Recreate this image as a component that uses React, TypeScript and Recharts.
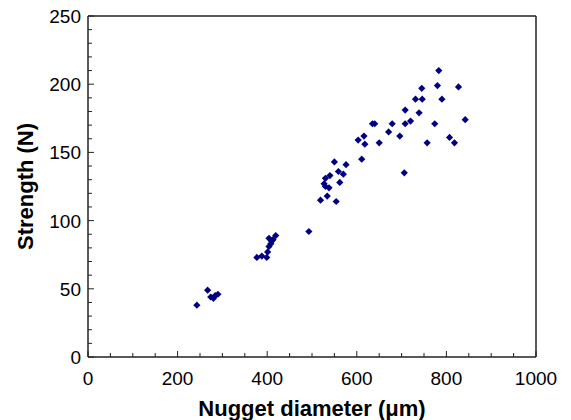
import { ScatterChart, Scatter, XAxis, YAxis, ReferenceLine } from "recharts"

// nugget diameter (um) and joint strength (N)
const diameters = [
  243, 267, 274, 280, 284, 290,
  377, 388, 399, 401, 404, 408, 410, 404, 413, 419,
  493,
  519, 534, 554, 530, 538, 527, 530, 540, 562, 559, 570, 576, 550,
  611, 603, 616, 618, 650, 635, 640, 671, 679, 696, 706, 708, 720, 708,
  739, 757, 783, 780, 827, 745, 731, 746, 790, 842, 774, 807, 818,
]
const strengths = [
  38, 49, 44, 43, 45, 46,
  73, 74, 73, 77, 81, 83, 85, 87, 86, 89,
  92,
  115, 118, 114, 125, 124, 127, 131, 133, 128, 136, 134, 141, 143,
  145, 159, 162, 156, 157, 171, 171, 165, 171, 162, 135, 171, 173, 181,
  179, 157, 210, 199, 198, 197, 189, 189, 189, 174, 171, 161, 157,
]

const xTicks = [0, 50, 100, 150, 200, 250, 300, 350, 400, 450, 500, 550, 600, 650, 700, 750, 800, 850, 900, 950, 1000]
const yTicks = [0, 10, 20, 30, 40, 50, 60, 70, 80, 90, 100, 110, 120, 130, 140, 150, 160, 170, 180, 190, 200, 210, 220, 230, 240, 250]

const data = diameters.map((d, i) => ({ d, s: strengths[i] }))

const FONT = "'Liberation Sans', Arial, sans-serif"
const AXIS = "#222"

const XTick = (props: any) => {
  const { x, y, payload } = props
  const major = payload.value % 200 === 0
  return (
    <g>
      <line x1={x} y1={y} x2={x} y2={y - (major ? 6 : 4)} stroke={AXIS} strokeWidth={1} />
      {major && (
        <text x={x} y={y + 28} textAnchor="middle" fontSize={19} fontFamily={FONT} fill="#000">
          {payload.value}
        </text>
      )}
    </g>
  )
}

const YTick = (props: any) => {
  const { x, y, payload } = props
  const major = payload.value % 50 === 0
  return (
    <g>
      <line x1={x} y1={y} x2={x + (major ? 6 : 4)} y2={y} stroke={AXIS} strokeWidth={1} />
      {major && (
        <text x={x - 7} y={y + 7} textAnchor="end" fontSize={19} fontFamily={FONT} fill="#000">
          {payload.value}
        </text>
      )}
    </g>
  )
}

const Diamond = (props: any) => {
  const { cx, cy } = props
  const r = 3.6
  return <polygon points={`${cx},${cy - r} ${cx + r},${cy} ${cx},${cy + r} ${cx - r},${cy}`} fill="#000080" />
}

export default function App() {
  return (
    <div style={{ position: "absolute", left: 0, top: 0, width: 571, height: 420, background: "#fff" }}>
      <ScatterChart width={571} height={420} margin={{ top: 16, right: 35, bottom: 23, left: 28 }}>
        <XAxis
          type="number"
          dataKey="d"
          domain={[0, 1000]}
          ticks={xTicks}
          interval={0}
          height={40}
          tickSize={0}
          tickMargin={0}
          tick={XTick}
          axisLine={{ stroke: AXIS, strokeWidth: 1.5 }}
          label={{
            content: () => (
              <text x={312} y={416} textAnchor="middle" fontSize={22} fontWeight="bold" fontFamily={FONT} fill="#000">
                Nugget diameter (μm)
              </text>
            ),
          }}
        />
        <YAxis
          type="number"
          dataKey="s"
          domain={[0, 250]}
          ticks={yTicks}
          interval={0}
          width={60}
          tickSize={0}
          tickMargin={0}
          tick={YTick}
          axisLine={{ stroke: AXIS, strokeWidth: 1.5 }}
          label={{
            content: () => (
              <text
                x={33}
                y={186.5}
                transform="rotate(-90, 33, 186.5)"
                textAnchor="middle"
                fontSize={22}
                fontWeight="bold"
                fontFamily={FONT}
                fill="#000"
              >
                Strength (N)
              </text>
            ),
          }}
        />
        <ReferenceLine x={1000} stroke={AXIS} strokeWidth={1.5} />
        <ReferenceLine y={250} stroke={AXIS} strokeWidth={1.5} />
        <Scatter data={data} shape={Diamond} isAnimationActive={false} />
      </ScatterChart>
    </div>
  )
}
